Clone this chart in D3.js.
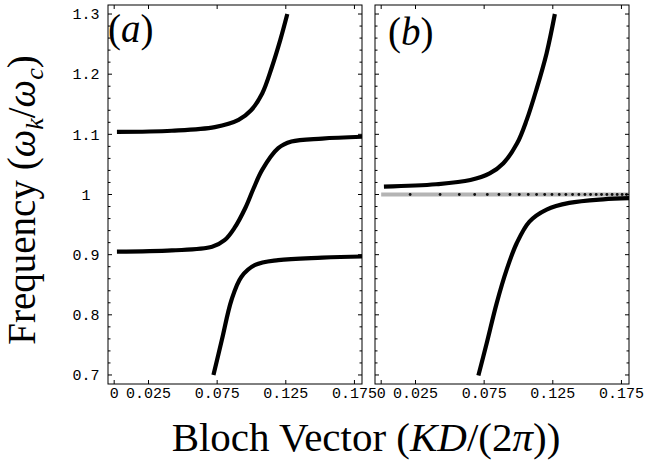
<!DOCTYPE html>
<html><head><meta charset="utf-8">
<script src="https://cdn.jsdelivr.net/npm/d3@7"></script>
<style>body{margin:0;background:#fff}svg{display:block}</style>
</head><body>
<svg id="c" width="645" height="461"></svg>
<script>
const xTicks = [0, 0.025, 0.075, 0.125, 0.175];
const xTickLabels = ["0", "0.025", "0.075", "0.125", "0.175"];
const yTicks = [0.7, 0.8, 0.9, 1.0, 1.1, 1.2, 1.3];
const yTickLabels = ["0.7", "0.8", "0.9", "1", "1.1", "1.2", "1.3"];
const yMinor = [0.7,0.72,0.74,0.76,0.78,0.8,0.82,0.84,0.86,0.88,0.9,0.92,0.94,0.96,0.98,1.0,1.02,1.04,1.06,1.08,1.1,1.12,1.14,1.16,1.18,1.2,1.22,1.24,1.26,1.28,1.3];

const aUpper = [[0.002,1.104],[0.042,1.106],[0.0733,1.112],[0.0906,1.124],[0.0997,1.140],[0.1078,1.168],[0.1149,1.212],[0.121,1.257],[0.1261,1.300]];
const aMiddle = [[0.002,0.905],[0.042,0.907],[0.0713,0.913],[0.0804,0.924],[0.0875,0.944],[0.0956,0.978],[0.1015,1.010],[0.1078,1.041],[0.1195,1.077],[0.1291,1.088],[0.1515,1.093],[0.181,1.096]];
const aLower = [[0.0723,0.700],[0.0784,0.758],[0.0855,0.825],[0.0926,0.863],[0.1027,0.883],[0.1195,0.891],[0.1515,0.895],[0.181,0.897]];

const bUpper = [[0.002,1.013],[0.040,1.017],[0.065,1.024],[0.079,1.035],[0.089,1.052],[0.099,1.085],[0.106,1.124],[0.113,1.174],[0.1205,1.235],[0.1265,1.300]];
const bLower = [[0.0708,0.699],[0.0769,0.753],[0.0841,0.819],[0.0914,0.875],[0.0987,0.919],[0.108,0.955],[0.1205,0.975],[0.137,0.986],[0.1617,0.992],[0.181,0.994]];
const bFlat = [[0.0,1.0],[0.181,1.0]];
const bDotsX = [0.0211,0.0429,0.0569,0.0681,0.0773,0.0858,0.0938,0.1006,0.1071,0.1132,0.1191,0.1244,0.1297,0.1345,0.1394,0.1440,0.1484,0.1525,0.1566,0.1605,0.1644,0.1682,0.1719,0.1755,0.1787];
const bDotsY = 1.0;

const svg = d3.select("#c");
const H = 379;
const y = d3.scaleLinear().domain([0.685, 1.315]).range([H, 0]);

function panel(left, W, label, curves, showY, extra) {
  const x = d3.scaleLinear().domain([-0.0045, 0.1805]).range([0, W]);
  const g = svg.append("g").attr("transform", `translate(${left},5)`);
  const clipId = "clip" + left;
  g.append("clipPath").attr("id", clipId).append("rect").attr("width", W).attr("height", H);
  const plot = g.append("g").attr("clip-path", `url(#${clipId})`);
  const line = d3.line().x(d => x(d[0])).y(d => y(d[1])).curve(d3.curveCatmullRom.alpha(0.5));
  if (extra) {
    plot.append("path").attr("d", line(bFlat)).attr("fill","none").attr("stroke","#b4b4b4").attr("stroke-width",4);
    plot.selectAll("circle.dot").data(bDotsX).join("circle").attr("class","dot")
      .attr("cx", d => x(d)).attr("cy", y(bDotsY)).attr("r", 1.4).attr("fill", "#111");
  }
  curves.forEach(c => plot.append("path").attr("d", line(c)).attr("fill","none")
    .attr("stroke","#000").attr("stroke-width",4.2).attr("stroke-linejoin","round"));
  g.append("rect").attr("width", W).attr("height", H).attr("fill","none").attr("stroke","#000").attr("stroke-width",1);
  const tk = g.append("g").attr("stroke","#000").attr("stroke-width",1);
  xTicks.forEach(t => {
    tk.append("line").attr("x1", x(t)).attr("x2", x(t)).attr("y1", H).attr("y2", H-4);
    tk.append("line").attr("x1", x(t)).attr("x2", x(t)).attr("y1", 0).attr("y2", 4);
  });
  yMinor.forEach(t => {
    const major = yTicks.some(v => Math.abs(v - t) < 1e-6);
    const L = major ? 4 : 2.5;
    tk.append("line").attr("x1", 0).attr("x2", L).attr("y1", y(t)).attr("y2", y(t));
    tk.append("line").attr("x1", W).attr("x2", W-L).attr("y1", y(t)).attr("y2", y(t));
  });
  g.selectAll("text.xt").data(xTicks).join("text").attr("class","xt")
    .attr("x", d => x(d)).attr("y", H + 14).attr("text-anchor","middle")
    .attr("font-family","'Liberation Mono', monospace").attr("font-size",15)
    .text((d,i) => xTickLabels[i]);
  if (showY) {
    g.selectAll("text.yt").data(yTicks).join("text").attr("class","yt")
      .attr("x", -22).attr("y", d => y(d)).attr("dy","0.35em").attr("text-anchor","middle")
      .attr("font-family","'Liberation Mono', monospace").attr("font-size",15)
      .text((d,i) => yTickLabels[i]);
  }
  const lab = g.append("text").attr("x", label.x).attr("y", label.y)
    .attr("font-family","'Liberation Serif', serif").attr("font-size",39);
  lab.append("tspan").text("(");
  lab.append("tspan").attr("font-style","italic").text(label.t);
  lab.append("tspan").text(")");
}

panel(108, 254, {x: 0, y: 37, t: "a"}, [aUpper, aMiddle, aLower], true, false);
panel(375, 254, {x: 13, y: 40, t: "b"}, [bUpper, bLower], false, true);

// Y label
const yl = svg.append("text").attr("transform","translate(35,200) rotate(-90)")
  .attr("text-anchor","middle").attr("font-family","'Liberation Serif', serif").attr("font-size",39);
yl.append("tspan").text("Frequency (");
yl.append("tspan").attr("font-style","italic").text("ω");
yl.append("tspan").attr("font-style","italic").attr("font-size",26).attr("dy",8).text("k");
yl.append("tspan").attr("dy",-8).text("/");
yl.append("tspan").attr("font-style","italic").text("ω");
yl.append("tspan").attr("font-style","italic").attr("font-size",26).attr("dy",8).text("c");
yl.append("tspan").attr("dy",-8).text(")");

// X label
const xl = svg.append("text").attr("x", 366).attr("y", 451)
  .attr("text-anchor","middle").attr("font-family","'Liberation Serif', serif").attr("font-size",41);
xl.append("tspan").text("Bloch Vector (");
xl.append("tspan").attr("font-style","italic").text("KD");
xl.append("tspan").text("/(2");
xl.append("tspan").attr("font-style","italic").text("π");
xl.append("tspan").text("))");
</script>
</body></html>
